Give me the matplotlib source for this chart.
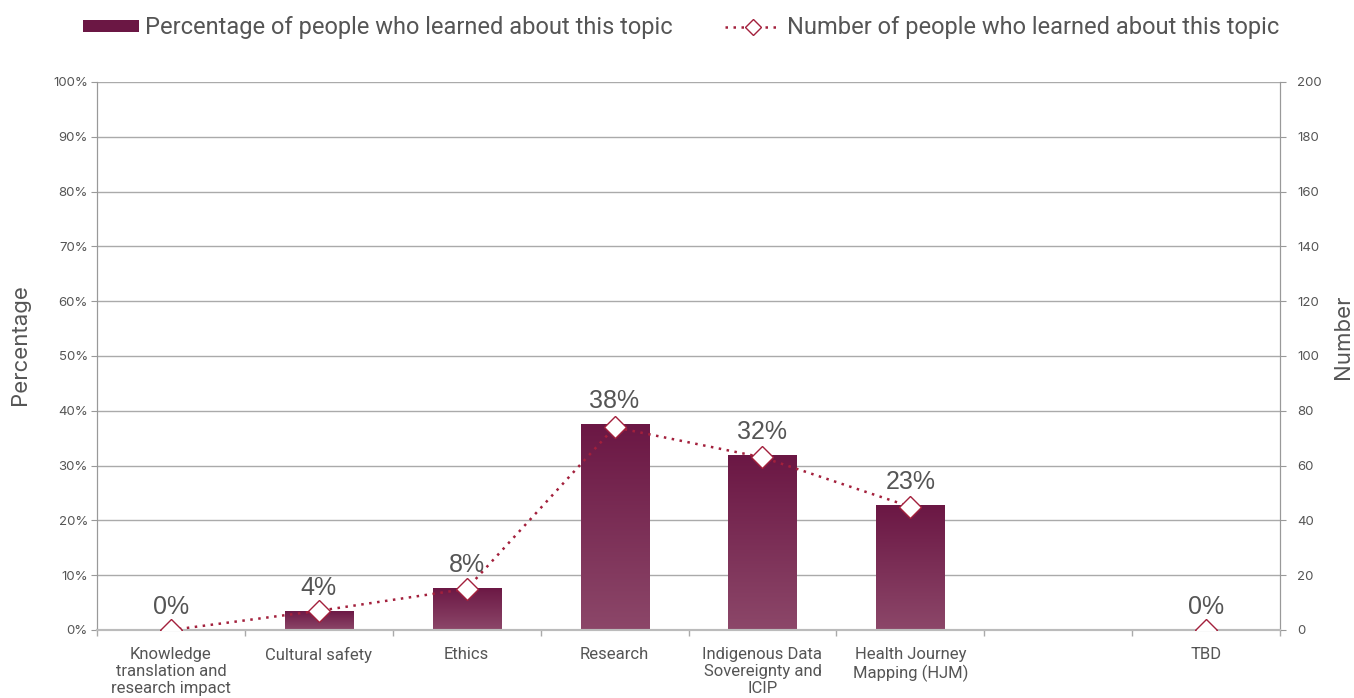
import numpy as np
import matplotlib
matplotlib.use("Agg")
import matplotlib.pyplot as plt
from matplotlib.lines import Line2D
from matplotlib.patches import Patch

# ---------------------------------------------------------------- data
categories = ["Knowledge\ntranslation and\nresearch impact", "Cultural safety", "Ethics",
              "Research", "Indigenous Data\nSovereignty and\nICIP",
              "Health Journey\nMapping (HJM)", "", "TBD"]
pct_values = [0.0, 3.5, 7.7, 37.6, 31.9, 22.8, np.nan, 0.0]
pct_labels = ["0%", "4%", "8%", "38%", "32%", "23%", "", "0%"]
num_values = [0, 7, 15, 74, 63, 45, np.nan, 0]
pct_ticks = [0, 10, 20, 30, 40, 50, 60, 70, 80, 90, 100]
num_ticks = [0, 20, 40, 60, 80, 100, 120, 140, 160, 180, 200]

BAR_TOP = "#6b1744"
BAR_BOT = "#8c4769"
LINE_C = "#a3203c"
GREY = "#555555"
TXT_FONT = ["Roboto", "DejaVu Sans"]

plt.rcParams["font.family"] = ["Inter", "DejaVu Sans"]

fig = plt.figure(figsize=(13.54, 6.98), dpi=100)
ax = fig.add_axes([97 / 1354, 1 - 630 / 698, (1280 - 97) / 1354, (630 - 82) / 698])
ax2 = ax.twinx()

x = np.arange(len(categories))
bw = 0.46

# gradient bars
grad = np.linspace(0, 1, 256).reshape(-1, 1)
cmap = matplotlib.colors.LinearSegmentedColormap.from_list("bar", [BAR_BOT, BAR_TOP])
for xi, v in zip(x, pct_values):
    if np.isnan(v) or v <= 0:
        continue
    bar = ax.bar(xi, v, width=bw, color=BAR_TOP, zorder=2)[0]
    im = ax.imshow(grad, extent=(xi - bw / 2, xi + bw / 2, 0, v), origin="lower",
                   cmap=cmap, aspect="auto", zorder=2.1)
    im.set_clip_path(bar)

# value labels
for xi, v, lab in zip(x, pct_values, pct_labels):
    if lab == "":
        continue
    ax.annotate(lab, (xi, v), xytext=(0, 8), textcoords="offset points",
                ha="center", va="bottom", fontsize=18, color=GREY,
                family=["Liberation Sans", "DejaVu Sans"], zorder=5)

# line on secondary axis
ax2.plot(x, num_values, color=LINE_C, lw=1.8, ls=(0, (1, 2.2)),
         marker="D", markersize=11, markerfacecolor="white",
         markeredgecolor=LINE_C, markeredgewidth=1.0, zorder=4)

ax.set_xlim(-0.5, len(categories) - 0.5)
ax.set_ylim(0, 100)
ax2.set_ylim(0, 200)
ax.set_yticks(pct_ticks)
ax.set_yticklabels([f"{t}%" for t in pct_ticks])
ax2.set_yticks(num_ticks)
ax.yaxis.grid(True, color="#aaaaaa", lw=1.0, zorder=0)
ax.set_axisbelow(True)

ax.set_xticks(x)
ax.set_xticklabels(categories, fontsize=12, color=GREY, family=TXT_FONT,
                   linespacing=1.2)
ax.set_xticks(np.arange(-0.5, len(categories) + 0.5, 1), minor=True)
ax.tick_params(axis="x", which="major", length=0, pad=12)
ax.tick_params(axis="x", which="minor", length=4.5, color="#aaaaaa", width=1)
ax.tick_params(axis="y", length=4.5, color="#999999", labelsize=9.5, labelcolor=GREY, pad=2)
ax2.tick_params(axis="y", length=4.5, color="#999999", labelsize=9.5, labelcolor=GREY, pad=8)
for a in (ax, ax2):
    a.spines["top"].set_visible(False)
    a.spines["left"].set_color("#999999")
    a.spines["right"].set_color("#999999")
    a.spines["bottom"].set_color("#bbbbbb")
    a.spines["bottom"].set_linewidth(1.5)

ax.set_ylabel("Percentage", fontsize=16, color=GREY)
ax.yaxis.set_label_coords(-0.057, 0.52)
ax2.set_ylabel("Number", fontsize=16, color=GREY, rotation=90)
ax2.yaxis.set_label_coords(1.045, 0.535)

# legend
handles = [Patch(facecolor=BAR_TOP, edgecolor="none"),
           Line2D([], [], color=LINE_C, lw=1.8, ls=(0, (1, 2.2)), marker="D",
                  markersize=8, markerfacecolor="white", markeredgecolor=LINE_C)]
labels = ["Percentage of people who learned about this topic",
          "Number of people who learned about this topic"]
fig.legend(handles, labels, loc="upper center", bbox_to_anchor=(0.503, 1.007), ncol=2,
           frameon=False, prop={"family": TXT_FONT, "size": 17},
           labelcolor=GREY, handlelength=2.4, handleheight=0.4, handletextpad=0.25,
           columnspacing=2.2)

fig.savefig("out.png", dpi=100)
